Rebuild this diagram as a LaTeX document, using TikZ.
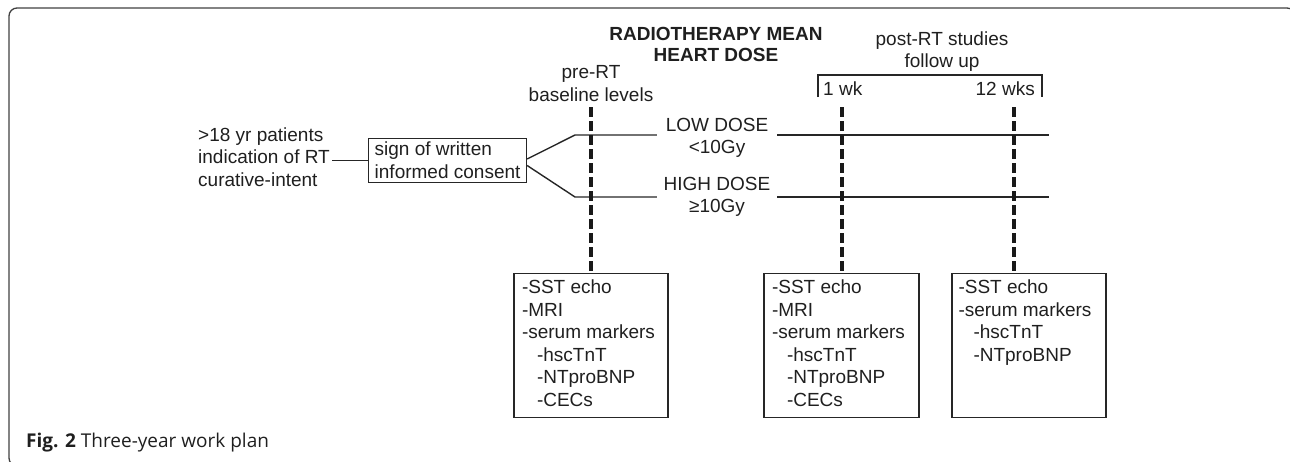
\documentclass[tikz,border=0pt]{standalone}
\usepackage{fontspec}
\setmainfont{Liberation Sans}
\newfontfamily\captionfont{Open Sans}
\usetikzlibrary{positioning}

\newcommand{\markerindent}{\hspace*{15pt}}

\tikzset{
	every node/.style={font=\fontsize{19}{22.6}\selectfont, text=black!88},
	rule/.style={line width=1.4pt, draw=black!85},
	timeline/.style={line width=3.6pt, dash pattern=on 10pt off 4pt, draw=black!90},
	stage/.style={draw=black!85, line width=1.4pt, align=left, inner xsep=6pt, inner ysep=3.5pt},
	panel/.style={draw=black!85, line width=1.4pt, inner xsep=8pt, inner ysep=6pt, anchor=north},
	dose/.style={minimum width=120pt, inner sep=0pt, anchor=base},
	tag/.style={align=center, inner sep=0pt, anchor=north},
}

\begin{document}
\begin{tikzpicture}[x=1pt,y=-1pt]
	\useasboundingbox (0,0) rectangle (1290,461);
	% frame, runs off the right and bottom edge
	\draw[rounded corners=8pt, line width=1.3pt, draw=black!75] (9,8) rectangle (1295,466);
	%
	\node[tag, font=\bfseries\fontsize{19}{21}\selectfont] (dosehead) at (716,27.3) {RADIOTHERAPY MEAN\\HEART DOSE};
	\node[tag] (prehead) at (591,65.3) {pre-RT\\baseline levels};
	\node[tag] (posthead) at (942,31.3) {post-RT studies\\follow up};
	\node[inner sep=0pt, anchor=base west] (wk1) at (823,95) {1 wk};
	\node[inner sep=0pt, anchor=base east] (wk12) at (1035,95) {12 wks};
	\draw[rule] (818,97) -- (818,75) -- (1042,75) -- (1042,97);
	%
	\node[tag, align=left, anchor=north west, inner xsep=2pt] (patients) at (196,127.3) {>18 yr patients\\indication of RT\\curative-intent};
	\node[stage, anchor=west] (consent) at (368,160.5) {sign of written\\informed consent};
	\draw[rule] (patients.east |- consent.west) -- (consent.west);
	%
	\coordinate (lowA) at (575,135);
	\coordinate (lowB) at (1049,135);
	\coordinate (highA) at (575,197);
	\coordinate (highB) at (1049,197);
	\node[dose] (low) at (717,131) {LOW DOSE};
	\node[dose] (lowgy) at (717,153) {<10Gy};
	\node[dose] (high) at (717,190) {HIGH DOSE};
	\node[dose] (highgy) at (717,212) {≥10Gy};
	\draw[rule] ([yshift=1.5pt]consent.east) -- (lowA) -- (lowA -| low.west);
	\draw[rule] (low.east |- lowA) -- (lowB);
	\draw[rule] ([yshift=-5pt]consent.east) -- (highA) -- (highA -| high.west);
	\draw[rule] (high.east |- highA) -- (highB);
	%
	\node[panel] (base) at (591,273) {\parbox[t][132pt][t]{138pt}{-SST echo\\-MRI\\-serum markers\\\markerindent-hscTnT\\\markerindent-NTproBNP\\\markerindent-CECs}};
	\node[panel] (wkbox) at (841.5,273) {\parbox[t][132pt][t]{139pt}{-SST echo\\-MRI\\-serum markers\\\markerindent-hscTnT\\\markerindent-NTproBNP\\\markerindent-CECs}};
	\node[panel, inner xsep=6.5pt] (wksbox) at (1029,273) {\parbox[t][132pt][t]{141pt}{-SST echo\\-serum markers\\\markerindent-hscTnT\\\markerindent-NTproBNP}};
	%
	\coordinate (preT) at (591,107);
	\coordinate (wkT) at (842,107);
	\coordinate (wksT) at (1014,107);
	\draw[timeline] (preT) -- (preT |- base.north);
	\draw[timeline] (wkT) -- (wkT |- wkbox.north);
	\draw[timeline] (wksT) -- (wksT |- wksbox.north);
	%
	\node[inner sep=0pt, anchor=base west, font=\captionfont\fontsize{19}{22}\selectfont] (caption) at (26,447) {\textbf{Fig. 2} Three-year work plan};
\end{tikzpicture}
\end{document}
